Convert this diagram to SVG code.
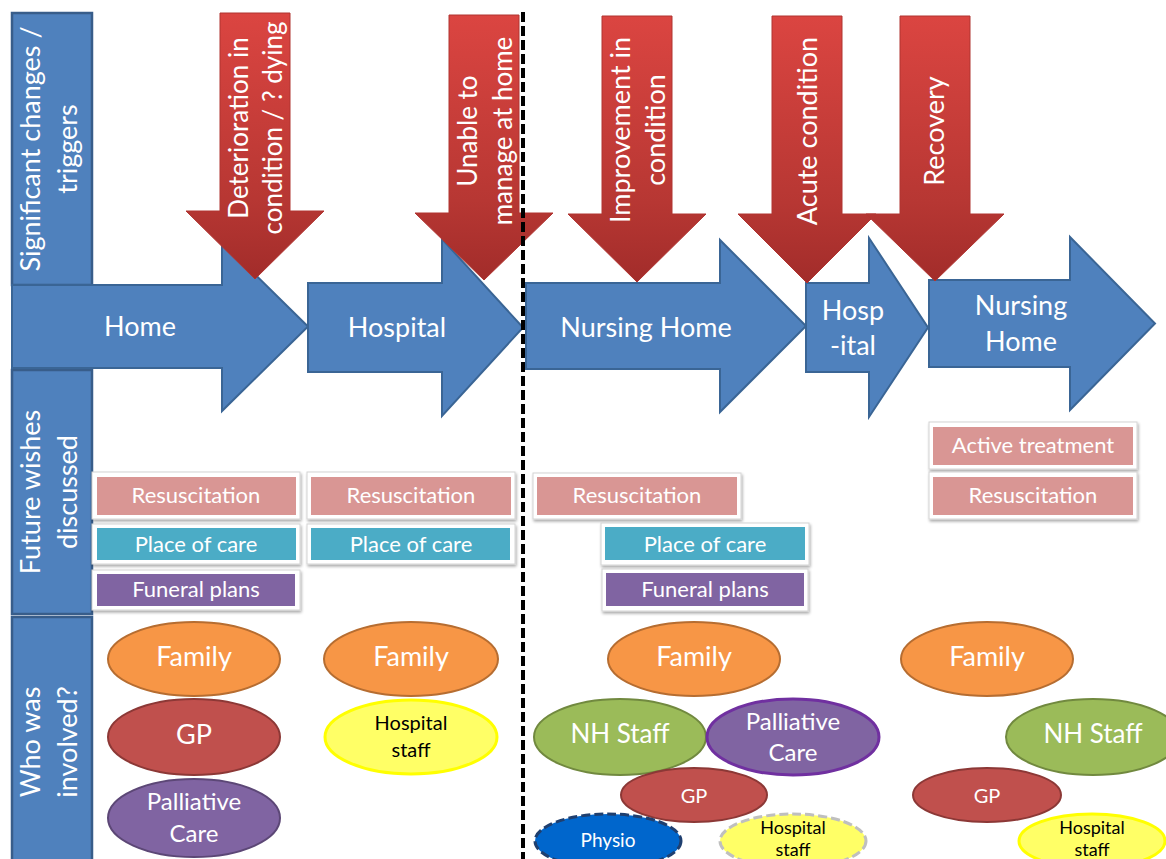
<svg xmlns="http://www.w3.org/2000/svg" width="1166" height="859" viewBox="0 0 1166 859">
  <defs>
    <linearGradient id="redGrad" x1="0" y1="0" x2="0" y2="1">
      <stop offset="0" stop-color="#DB4541"/>
      <stop offset="0.7" stop-color="#B73733"/>
      <stop offset="1" stop-color="#A22C2A"/>
    </linearGradient>
    <filter id="shadow" x="-10%" y="-20%" width="120%" height="150%">
      <feGaussianBlur in="SourceAlpha" stdDeviation="1.5"/>
      <feOffset dx="1" dy="2" result="b"/>
      <feComponentTransfer><feFuncA type="linear" slope="0.35"/></feComponentTransfer>
      <feMerge><feMergeNode/><feMergeNode in="SourceGraphic"/></feMerge>
    </filter>
    <style>
      .t { font-family: Lato, "Open Sans", "Liberation Sans", sans-serif; fill: #fff; text-anchor: middle; }
      .dark { fill: #000; }
      .band { fill: #4F81BD; stroke: #385D8A; stroke-width: 2.5; }
      .stage { fill: #4F81BD; stroke: #3A6595; stroke-width: 2; }
      .trigger { fill: url(#redGrad); stroke: #B03431; stroke-width: 1; }
      .frame { fill: #fff; stroke: #D4D4D4; stroke-width: 1; filter: url(#shadow); }
      .pink { fill: #D99694; }
      .teal { fill: #4BACC6; }
      .violet { fill: #8064A2; }
      .family { fill: #F79646; stroke: #B66D31; stroke-width: 2; }
      .gp { fill: #C0504D; stroke: #8C3836; stroke-width: 2; }
      .pall { fill: #8064A2; stroke: #5C4776; stroke-width: 2; }
      .pall2 { fill: #8064A2; stroke: #7030A0; stroke-width: 3; }
      .nh { fill: #9BBB59; stroke: #71893F; stroke-width: 2; }
      .hosp { fill: #FFFF66; stroke: #FFFF00; stroke-width: 3; }
      .hospd { fill: #FFFF66; stroke: #BFBFBF; stroke-width: 3; stroke-dasharray: 9 4; }
      .physio { fill: #0066CC; stroke: #1F3F6F; stroke-width: 3; stroke-dasharray: 9 4; }
    </style>
  </defs>

  <!-- row headings -->
  <g id="row-triggers">
    <rect class="band" x="12" y="13" width="80" height="272"/>
    <text class="t" font-size="27" transform="translate(0,149) rotate(-90)"><tspan x="0" y="40">Significant changes /</tspan><tspan x="0" y="77">triggers</tspan></text>
  </g>
  <g id="row-wishes">
    <rect class="band" x="12" y="370" width="80" height="244"/>
    <text class="t" font-size="27" transform="translate(0,492) rotate(-90)"><tspan x="0" y="40">Future wishes</tspan><tspan x="0" y="77">discussed</tspan></text>
  </g>
  <g id="row-people">
    <rect class="band" x="12" y="617" width="80" height="250"/>
    <text class="t" font-size="27" transform="translate(0,742) rotate(-90)"><tspan x="0" y="40">Who was</tspan><tspan x="0" y="77">involved?</tspan></text>
  </g>

  <!-- care settings -->
  <g id="stage-home">
    <path class="stage" d="M12,285 H222 V242 L308,326.5 L222,411 V368 H12 Z"/>
    <text class="t" font-size="27" x="140" y="336">Home</text>
  </g>
  <g id="stage-hospital">
    <path class="stage" d="M308,283 H442 V239 L523,327.5 L442,416 V372 H308 Z"/>
    <text class="t" font-size="27" x="397" y="337">Hospital</text>
  </g>
  <g id="stage-nursing-home">
    <path class="stage" d="M526,283 H720 V240 L806,326 L720,412 V369 H526 Z"/>
    <text class="t" font-size="27" x="646" y="337">Nursing Home</text>
  </g>
  <g id="stage-hospital-2">
    <path class="stage" d="M806,283 H869 V238 L928,327.5 L869,417 V372 H806 Z"/>
    <text class="t" font-size="27" x="853" y="320">Hosp</text>
    <text class="t" font-size="27" x="853" y="355">-ital</text>
  </g>
  <g id="stage-nursing-home-2">
    <path class="stage" d="M929,280 H1070 V237 L1155,323.5 L1070,410 V367 H929 Z"/>
    <text class="t" font-size="27" x="1021" y="315">Nursing</text>
    <text class="t" font-size="27" x="1021" y="351">Home</text>
  </g>

  <!-- triggers -->
  <g id="trigger-deterioration">
    <path class="trigger" d="M220,13 H290 V211 H324 L255,279 L186,211 H220 Z"/>
    <text class="t" font-size="26" transform="translate(255,128) rotate(-90)"><tspan x="0" y="-7">Deterioration in</tspan><tspan x="0" y="27">condition / ? dying</tspan></text>
  </g>
  <g id="trigger-unable">
    <path class="trigger" d="M449,15 H519 V213 H553 L484,280 L415,213 H449 Z"/>
    <text class="t" font-size="26" transform="translate(484,131) rotate(-90)"><tspan x="0" y="-7">Unable to</tspan><tspan x="0" y="28">manage at home</tspan></text>
  </g>
  <g id="trigger-improvement">
    <path class="trigger" d="M602,16 H672 V214 H706 L637,282 L568,214 H602 Z"/>
    <text class="t" font-size="27" transform="translate(637,130) rotate(-90)"><tspan x="0" y="-7">Improvement in</tspan><tspan x="0" y="28">condition</tspan></text>
  </g>
  <g id="trigger-acute">
    <path class="trigger" d="M772,16 H842 V214 H876 L807,283 L738,214 H772 Z"/>
    <text class="t" font-size="27" transform="translate(807,131) rotate(-90)" y="10">Acute condition</text>
  </g>
  <g id="trigger-recovery">
    <path class="trigger" d="M900,16 H970 V214 H1004 L935,281 L866,214 H900 Z"/>
    <text class="t" font-size="27" transform="translate(935,131) rotate(-90)" y="9">Recovery</text>
  </g>

  <!-- divider between hospital episode and nursing home -->
  <g id="divider">
    <line x1="523" y1="12" x2="523" y2="859" stroke="#000" stroke-width="4" stroke-dasharray="10 4"/>
  </g>

  <!-- wishes discussed -->
  <g id="wish-home-resus">
    <rect class="frame" x="92" y="472" width="208" height="47"/>
    <rect class="pink" x="97" y="477" width="199" height="38"/>
    <text class="t" font-size="22" x="196" y="503">Resuscitation</text>
  </g>
  <g id="wish-home-place">
    <rect class="frame" x="92" y="524" width="208" height="40"/>
    <rect class="teal" x="97" y="528" width="199" height="32"/>
    <text class="t" font-size="22" x="196" y="552">Place of care</text>
  </g>
  <g id="wish-home-funeral">
    <rect class="frame" x="92" y="570" width="208" height="40"/>
    <rect class="violet" x="97" y="574" width="198" height="32"/>
    <text class="t" font-size="22" x="196" y="597">Funeral plans</text>
  </g>
  <g id="wish-hosp-resus">
    <rect class="frame" x="307" y="472" width="208" height="47"/>
    <rect class="pink" x="311" y="477" width="200" height="38"/>
    <text class="t" font-size="22" x="411" y="503">Resuscitation</text>
  </g>
  <g id="wish-hosp-place">
    <rect class="frame" x="307" y="524" width="208" height="40"/>
    <rect class="teal" x="311" y="528" width="199" height="32"/>
    <text class="t" font-size="22" x="411" y="552">Place of care</text>
  </g>
  <g id="wish-nh-resus">
    <rect class="frame" x="533" y="473" width="208" height="46"/>
    <rect class="pink" x="537" y="477" width="200" height="38"/>
    <text class="t" font-size="22" x="637" y="503">Resuscitation</text>
  </g>
  <g id="wish-nh-place">
    <rect class="frame" x="601" y="523" width="208" height="42"/>
    <rect class="teal" x="605" y="527" width="200" height="33"/>
    <text class="t" font-size="22" x="705" y="552">Place of care</text>
  </g>
  <g id="wish-nh-funeral">
    <rect class="frame" x="602" y="569" width="206" height="42"/>
    <rect class="violet" x="606" y="573" width="198" height="33"/>
    <text class="t" font-size="22" x="705" y="597">Funeral plans</text>
  </g>
  <g id="wish-nh2-active">
    <rect class="frame" x="929" y="422" width="208" height="47"/>
    <rect class="pink" x="933" y="427" width="200" height="38"/>
    <text class="t" font-size="22" x="1033" y="453">Active treatment</text>
  </g>
  <g id="wish-nh2-resus">
    <rect class="frame" x="929" y="472" width="208" height="47"/>
    <rect class="pink" x="933" y="477" width="200" height="38"/>
    <text class="t" font-size="22" x="1033" y="503">Resuscitation</text>
  </g>

  <!-- people involved -->
  <g id="who-home-family">
    <ellipse class="family" cx="194" cy="659" rx="86" ry="37"/>
    <text class="t" font-size="27" x="194" y="666">Family</text>
  </g>
  <g id="who-home-gp">
    <ellipse class="gp" cx="194" cy="737" rx="86" ry="38"/>
    <text class="t" font-size="27" x="194" y="744">GP</text>
  </g>
  <g id="who-home-palliative">
    <ellipse class="pall" cx="194" cy="818" rx="86" ry="39"/>
    <text class="t" font-size="24" x="194" y="810">Palliative</text>
    <text class="t" font-size="24" x="194" y="842">Care</text>
  </g>
  <g id="who-hosp-family">
    <ellipse class="family" cx="411" cy="659" rx="87" ry="37"/>
    <text class="t" font-size="27" x="411" y="666">Family</text>
  </g>
  <g id="who-hosp-staff">
    <ellipse class="hosp" cx="411" cy="737" rx="86" ry="37"/>
    <text class="t dark" font-size="20" x="411" y="730">Hospital</text>
    <text class="t dark" font-size="20" x="411" y="757">staff</text>
  </g>
  <g id="who-nh-family">
    <ellipse class="family" cx="694" cy="659" rx="86" ry="37"/>
    <text class="t" font-size="27" x="694" y="666">Family</text>
  </g>
  <g id="who-nh-staff">
    <ellipse class="nh" cx="620" cy="737" rx="86" ry="38"/>
    <text class="t" font-size="26" x="620" y="743">NH Staff</text>
  </g>
  <g id="who-nh-palliative">
    <ellipse class="pall2" cx="793" cy="737" rx="86" ry="38"/>
    <text class="t" font-size="24" x="793" y="730">Palliative</text>
    <text class="t" font-size="24" x="793" y="761">Care</text>
  </g>
  <g id="who-nh-gp">
    <ellipse class="gp" cx="694" cy="795" rx="73" ry="27"/>
    <text class="t" font-size="20" x="694" y="803">GP</text>
  </g>
  <g id="who-nh-physio">
    <ellipse class="physio" cx="608" cy="841" rx="73" ry="27"/>
    <text class="t" font-size="19" x="608" y="847">Physio</text>
  </g>
  <g id="who-nh-hospital-staff">
    <ellipse class="hospd" cx="793" cy="841" rx="73" ry="27"/>
    <text class="t dark" font-size="18" x="793" y="834">Hospital</text>
    <text class="t dark" font-size="18" x="793" y="856">staff</text>
  </g>
  <g id="who-nh2-family">
    <ellipse class="family" cx="987" cy="659" rx="86" ry="37"/>
    <text class="t" font-size="27" x="987" y="666">Family</text>
  </g>
  <g id="who-nh2-staff">
    <ellipse class="nh" cx="1093" cy="737" rx="87" ry="38"/>
    <text class="t" font-size="26" x="1093" y="743">NH Staff</text>
  </g>
  <g id="who-nh2-gp">
    <ellipse class="gp" cx="987" cy="795" rx="74" ry="27"/>
    <text class="t" font-size="20" x="987" y="803">GP</text>
  </g>
  <g id="who-nh2-hospital-staff">
    <ellipse class="hosp" cx="1092" cy="841" rx="73" ry="27"/>
    <text class="t dark" font-size="18" x="1092" y="834">Hospital</text>
    <text class="t dark" font-size="18" x="1092" y="856">staff</text>
  </g>
</svg>
